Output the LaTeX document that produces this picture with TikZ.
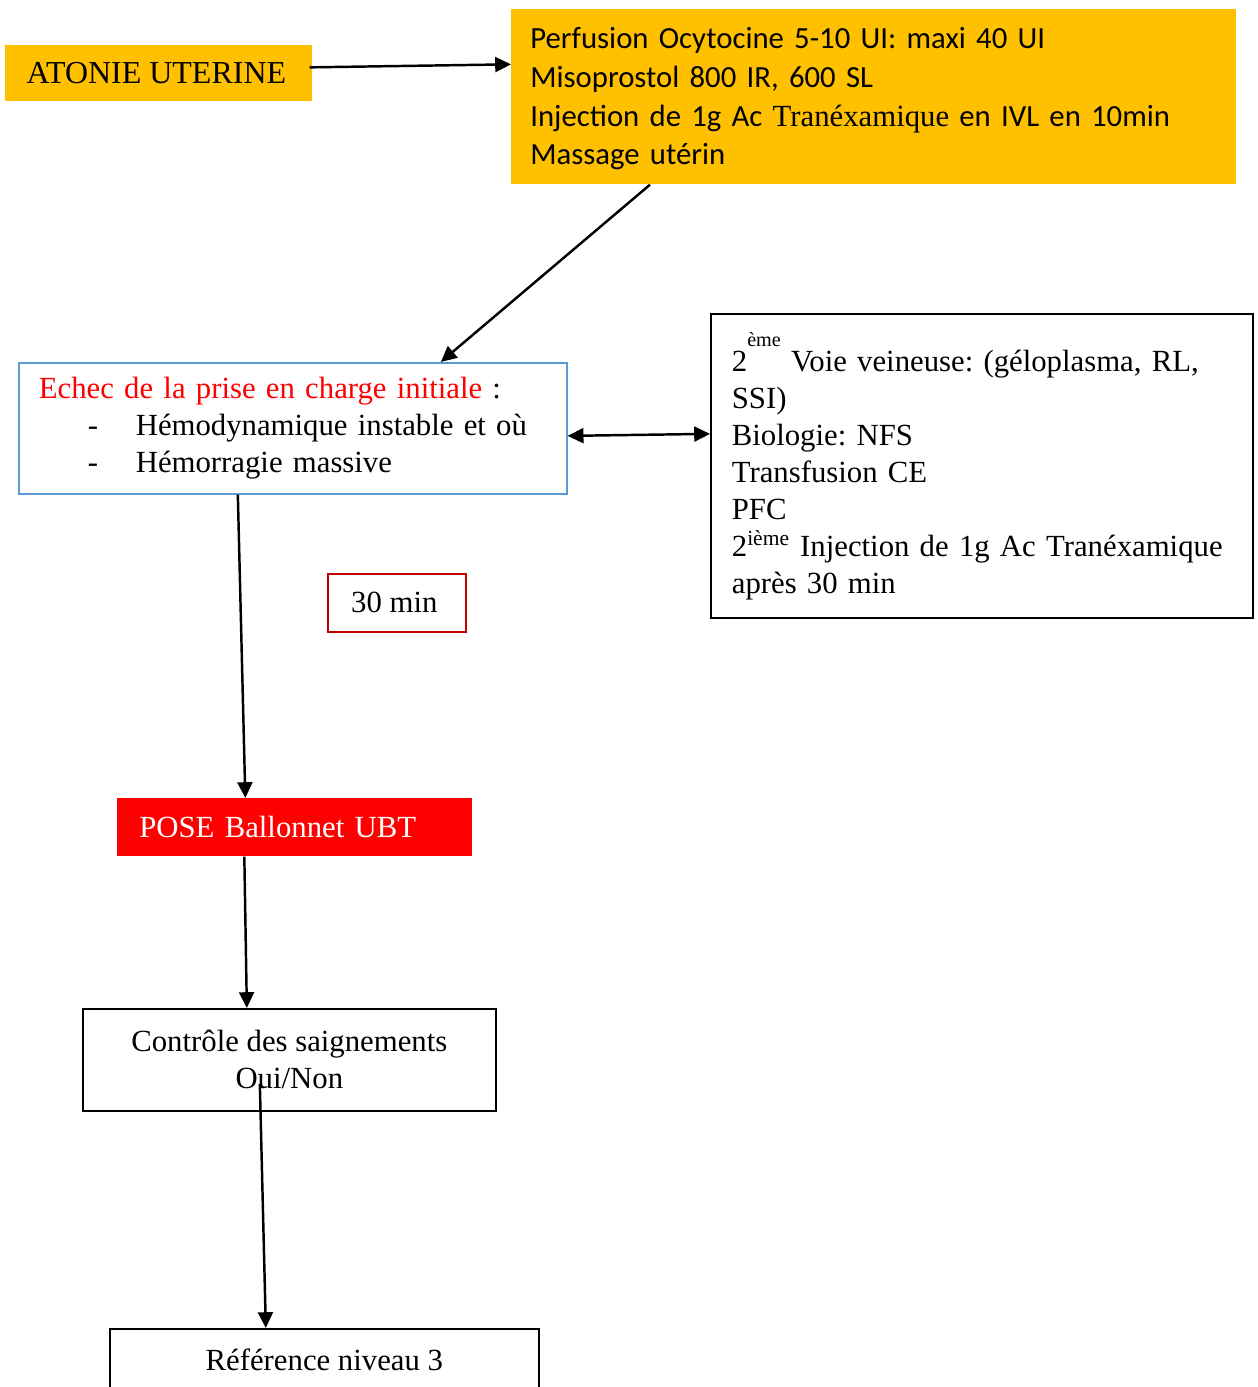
\documentclass[tikz,border=0pt]{standalone}
\usepackage{fontspec}
\setmainfont{Liberation Serif}
\newfontfamily\calibrifont{Carlito}
\usetikzlibrary{arrows.meta,positioning}
\definecolor{atonieyellow}{HTML}{FFC000}
\definecolor{echecblue}{HTML}{5B9BD5}
\definecolor{delaired}{HTML}{C00000}
\definecolor{ballonred}{HTML}{FF0000}
\frenchspacing
\tikzset{
  box/.style={inner sep=0pt, anchor=north west, font=\fontsize{17.5}{21}\selectfont},
  framed/.style={box, draw, line width=1pt},
  flow/.style={-{Triangle[length=9pt,width=8.5pt]}, line width=1.4pt},
  flowboth/.style={{Triangle[length=9pt,width=8.5pt]}-{Triangle[length=9pt,width=8.5pt]}, line width=1.4pt}
}

\begin{document}
\begin{tikzpicture}[x=0.02cm, y=-0.02cm]

  % page frame (in pixels of the original page)
  \useasboundingbox (0,0) rectangle (1258,1387);
  \clip (0,0) rectangle (1258,1387);

  % first line of care
  \node[box, fill=atonieyellow, minimum width=6.14cm, minimum height=1.12cm,
        font=\fontsize{18.2}{21}\selectfont]
    (atonie) at (5,45) {ATONIE UTERINE\hspace*{0.1cm}};
  \node[box, fill=atonieyellow, text width=13.74cm, inner xsep=0.38cm,
        minimum height=3.5cm, align=left, font=\calibrifont\fontsize{17.5}{22}\selectfont]
    (perf) at (511,9) {\rule{0pt}{0.5cm}Perfusion Ocytocine 5-10 UI: maxi 40 UI\\
      Misoprostol 800 IR, 600 SL\\
      Injection de 1g Ac {\rmfamily Tranéxamique} en IVL en 10min\\
      Massage utérin};

  % failure
  \node[framed, draw=echecblue, text width=10.16cm, inner xsep=0.4cm,
        minimum height=2.62cm, align=left]
    (echec) at (18,362) {{\color{ballonred}Echec de la prise en charge initiale} :\\
      \makebox[1.94cm][l]{\hspace*{0.98cm}-}Hémodynamique instable et où\\
      \makebox[1.94cm][l]{\hspace*{0.98cm}-}Hémorragie massive};
  \node[framed, text width=10cm, inner xsep=0.42cm, minimum height=6.08cm, align=left]
    (voie) at (710,313) {2\raisebox{14.5pt}{\fontsize{11.5}{11.5}\selectfont ème}\ Voie veineuse: (géloplasma, RL,\\
      SSI)\\
      Biologie: NFS\\
      Transfusion CE\\
      PFC\\
      2\textsuperscript{ième} Injection de 1g Ac Tranéxamique\\
      après 30 min};
  \node[framed, draw=delaired, minimum width=2.76cm, minimum height=1.16cm]
    (delai) at (327,573) {30 min\hspace*{0.1cm}};

  % second line
  \node[box, fill=ballonred, text=white, text width=6.22cm, inner xsep=0.44cm,
        minimum height=1.16cm, align=left]
    (ballon) at (117,798) {POSE Ballonnet UBT};
  \node[framed, minimum width=8.26cm, minimum height=2.04cm, align=center]
    (controle) at (82,1008) {Contrôle des saignements\\ Oui/Non};
  \node[framed, minimum width=8.58cm, minimum height=1.24cm]
    (reference) at (109,1328) {Référence niveau 3};

  % arrows
  \draw[flow] ([shift={(-3,-6)}]atonie.east) -- ([yshift=0.65cm]perf.west);
  \draw[flow] ([xshift=2.78cm]perf.south west) -- ([xshift=2.96cm]echec.north);
  \draw[flowboth] ([yshift=-0.15cm]echec.east) -- ([yshift=0.64cm]voie.west);
  \draw[flow] ([xshift=-1.1cm]echec.south) -- ([xshift=-0.99cm]ballon.north);
  \draw[flow] ([xshift=-1.01cm]ballon.south) -- ([xshift=-0.85cm]controle.north);
  \draw[flow] ([shift={(-29.5,-28)}]controle.south) -- ([xshift=-1.17cm]reference.north);

\end{tikzpicture}
\end{document}
